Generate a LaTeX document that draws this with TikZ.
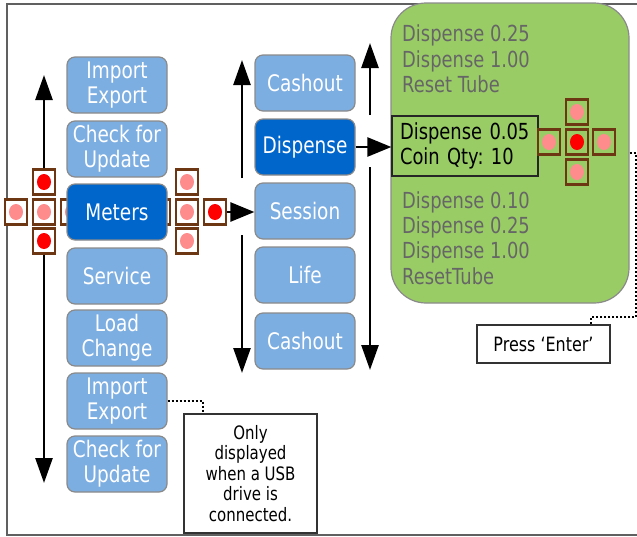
\documentclass[tikz,border=0pt]{standalone}
\usepackage{fontspec}
\setmainfont{DejaVu Sans}[FakeStretch=0.81]
\usetikzlibrary{arrows.meta,calc}
\definecolor{lblue}{HTML}{7DAEE2}
\definecolor{dblue}{HTML}{0066CC}
\definecolor{boxgray}{HTML}{8A8A8A}
\definecolor{grn}{HTML}{9ACC66}
\definecolor{txtgray}{HTML}{666666}
\definecolor{brownc}{HTML}{6E3714}
\definecolor{pinkc}{HTML}{FF8C8C}
\definecolor{redc}{HTML}{FF0000}
\definecolor{framec}{HTML}{606060}
\tikzset{
  menu/.style={draw=boxgray, line width=1.2pt, fill=lblue, rounded corners=8pt,
    minimum width=100pt, minimum height=56pt, text=white, inner sep=0pt,
    font=\fontsize{22.8}{25}\selectfont, align=center},
  menusel/.style={menu, fill=dblue},
  sqbox/.style={draw=brownc, line width=2.3pt, minimum width=22pt, minimum height=25pt, inner sep=0pt},
  pinkdot/.style={sqbox, path picture={\fill[pinkc] (path picture bounding box.center) ellipse [x radius=7pt, y radius=8pt];}},
  reddot/.style={sqbox, path picture={\fill[redc] (path picture bounding box.center) ellipse [x radius=7pt, y radius=8pt];}},
  arr/.style={line width=2.6pt, -{Triangle[width=17pt,length=25pt]}},
  harr/.style={line width=2.6pt, -{Triangle[width=19pt,length=24pt]}},
  dotline/.style={line width=2pt, dash pattern=on 2pt off 2pt},
  notebox/.style={draw=black!80, line width=1.2pt, fill=white, inner sep=0pt, align=center},
  greentxt/.style={text=txtgray, anchor=west, inner sep=0pt, align=left,
    font=\fontsize{22.1}{25.4}\selectfont}
}
\begin{document}
\frenchspacing
\begin{tikzpicture}[x=1pt,y=-1pt]
\useasboundingbox (0,0) rectangle (637,536);
\draw[framec, line width=1.5pt] (645,4) -- (7,4) -- (7,535) -- (645,535);

% left cluster squares
\node[reddot, fill=white] (lu) at (44,182) {};
\node[pinkdot, fill=white] (lc) at (44,212) {};
\node[reddot, fill=white] (ld) at (44,241) {};
\node[pinkdot, fill=white] (ll) at (16,212) {};
\node[pinkdot, fill=white] (lr) at (72,212) {};
% right cluster squares
\node[pinkdot, fill=white] (ru) at (187,182) {};
\node[pinkdot, fill=white] (rc) at (187,212) {};
\node[pinkdot, fill=white] (rd) at (187,241) {};
\node[pinkdot, fill=white] (rl) at (159,212) {};
\node[reddot, fill=white] (rr) at (215,212) {};

% column 1
\node[menu] (ie1) at (117,85) {Import\\Export};
\node[menu] (cu1) at (117,149) {Check for\\Update};
\node[menusel] (met) at (117,212) {Meters};
\node[menu] (srv) at (117,276) {Service};
\node[menu] (lc1) at (117,338) {Load\\Change};
\node[menu] (ie2) at (117,401) {Import\\Export};
\node[menu] (cu2) at (117,464) {Check for\\Update};

% column 2
\node[menu] (co1) at (305,83) {Cashout};
\node[menusel] (dis) at (305,147) {Dispense};
\node[menu] (ses) at (305,211) {Session};
\node[menu] (life) at (305,275) {Life};
\node[menu] (co2) at (305,341) {Cashout};

% left arrows
\coordinate (lt) at (44,75);
\coordinate (lb) at (44,483);
\draw[arr] (lu.north) -- (lt);
\draw[arr] (ld.south) -- (lb);
\draw[harr] (rr.east) -- (rr.east -| ses.west);

% middle arrows
\coordinate (m1a) at (242,178);
\coordinate (m1b) at (242,60);
\coordinate (m2a) at (242,235);
\coordinate (m2b) at (242,373);
\coordinate (m3a) at (370,115);
\coordinate (m3b) at (370,43);
\coordinate (m4a) at (370,167);
\coordinate (m4b) at (370,370);
\draw[arr] (m1a) -- (m1b);
\draw[arr] (m2a) -- (m2b);
\draw[arr] (m3a) -- (m3b);
\draw[arr] (m4a) -- (m4b);

% green panel
\node[draw=boxgray, line width=1.2pt, fill=grn, rounded corners=35pt,
  minimum width=238pt, minimum height=300pt, inner sep=0pt] (green) at (510,153) {};
\node[greentxt] (gt1) at (402,59) {Dispense 0.25\\Dispense 1.00\\Reset Tube};
\node[greentxt] (gt2) at (402,238) {Dispense 0.10\\Dispense 0.25\\Dispense 1.00\\ResetTube};
\node[draw=black!85, line width=1.3pt, fill=grn, minimum width=146pt, minimum height=60pt,
  text width=130pt, inner xsep=8pt, inner ysep=0pt, align=left, font=\fontsize{22.1}{25}\selectfont] (selbox) at (465,146)
  {Dispense 0.05\\Coin Qty: 10};
\draw[harr] (dis.east) -- (dis.east -| selbox.west);

% green cross
\node[pinkdot] (gu) at (577,112) {};
\node[reddot] (gc) at (577,142) {};
\node[pinkdot] (gd) at (577,172) {};
\node[pinkdot] (gl) at (549,142) {};
\node[pinkdot] (gr) at (604,142) {};

% notes
\node[notebox, minimum width=133pt, minimum height=38pt, font=\fontsize{19.7}{20}\selectfont]
  (press) at (543.5,344) {Press ‘Enter’};
\node[notebox, minimum width=133pt, minimum height=119pt, font=\fontsize{18.5}{20.5}\selectfont]
  (note) at (250.5,473.5) {Only\\displayed\\when a USB\\drive is\\connected.};

\path (press.north) ++(47.5,0) coordinate (pn);
\draw[dotline] (green.east) -- ++(6,0) |- ($(pn)+(0,-7)$) -- (pn);
\path (note.north) ++(-47.5,0) coordinate (nn);
\draw[dotline] (ie2.east) -| (nn);
\end{tikzpicture}
\end{document}
